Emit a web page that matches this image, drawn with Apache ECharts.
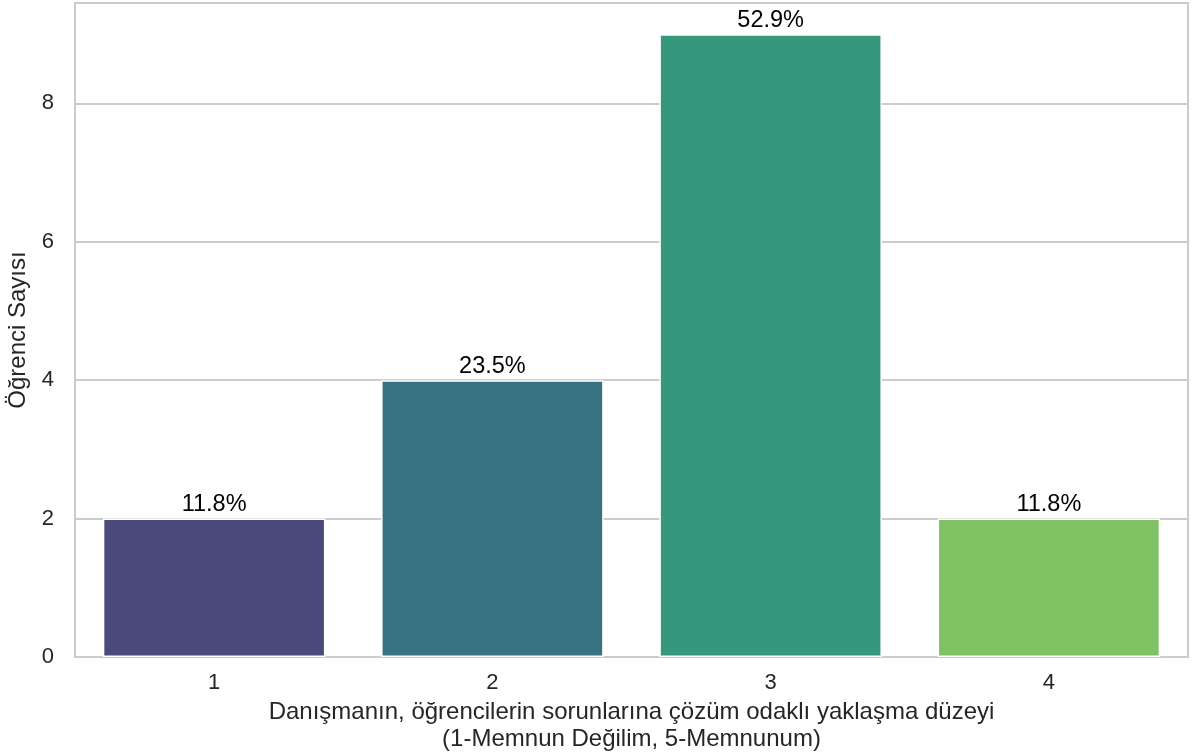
<!DOCTYPE html>
<html>
<head>
<meta charset="utf-8">
<script src="https://cdn.jsdelivr.net/npm/echarts@6/dist/echarts.min.js"></script>
<style>
html,body{margin:0;padding:0;background:#fff;}
#chart{width:1193px;height:754px;}
</style>
</head>
<body>
<div id="chart"></div>
<script>
var categories = ["1", "2", "3", "4"];
var counts = [2, 4, 9, 2];
var percentLabels = ["11.8%", "23.5%", "52.9%", "11.8%"];
var barColors = ["#4a4a7b", "#367280", "#35977b", "#7fc263"];
var xTitle = "Danışmanın, öğrencilerin sorunlarına çözüm odaklı yaklaşma düzeyi\n(1-Memnun Değilim, 5-Memnunum)";
var yTitle = "Öğrenci Sayısı";

var font = "'Liberation Sans', Arial, sans-serif";
var chart = echarts.init(document.getElementById('chart'), null, {renderer: 'canvas'});
chart.setOption({
  animation: false,
  backgroundColor: '#ffffff',
  grid: {left: 75, right: 5, top: 3, bottom: 97, show: true, borderColor: '#cccccc', borderWidth: 2,
         containLabel: false, outerBoundsMode: 'none'},
  xAxis: {
    type: 'category',
    data: categories,
    axisLine: {show: false},
    axisTick: {show: false},
    axisLabel: {color: '#262626', fontSize: 22, fontFamily: font, margin: 15},
    name: xTitle,
    nameLocation: 'middle',
    nameGap: 41,
    nameTextStyle: {color: '#262626', fontSize: 24, fontFamily: font, lineHeight: 27, verticalAlign: 'top'}
  },
  yAxis: {
    type: 'value',
    min: 0,
    max: 9.45,
    interval: 2,
    axisLine: {show: false},
    axisTick: {show: false},
    axisLabel: {color: '#262626', fontSize: 22, fontFamily: font, margin: 21, showMaxLabel: false},
    splitLine: {lineStyle: {color: '#cccccc', width: 2}},
    name: yTitle,
    nameLocation: 'middle',
    nameGap: 42,
    nameTextStyle: {color: '#262626', fontSize: 24, fontFamily: font}
  },
  series: [{
    type: 'bar',
    barCategoryGap: '20%',
    data: counts.map(function (v, i) {
      return {value: v, itemStyle: {color: barColors[i], borderColor: '#ffffff', borderWidth: 1.5}};
    }),
    label: {
      show: true,
      position: 'top',
      distance: 2,
      color: '#000000',
      fontSize: 23.5,
      fontFamily: font,
      formatter: function (p) { return percentLabels[p.dataIndex]; }
    }
  }]
});
</script>
</body>
</html>
